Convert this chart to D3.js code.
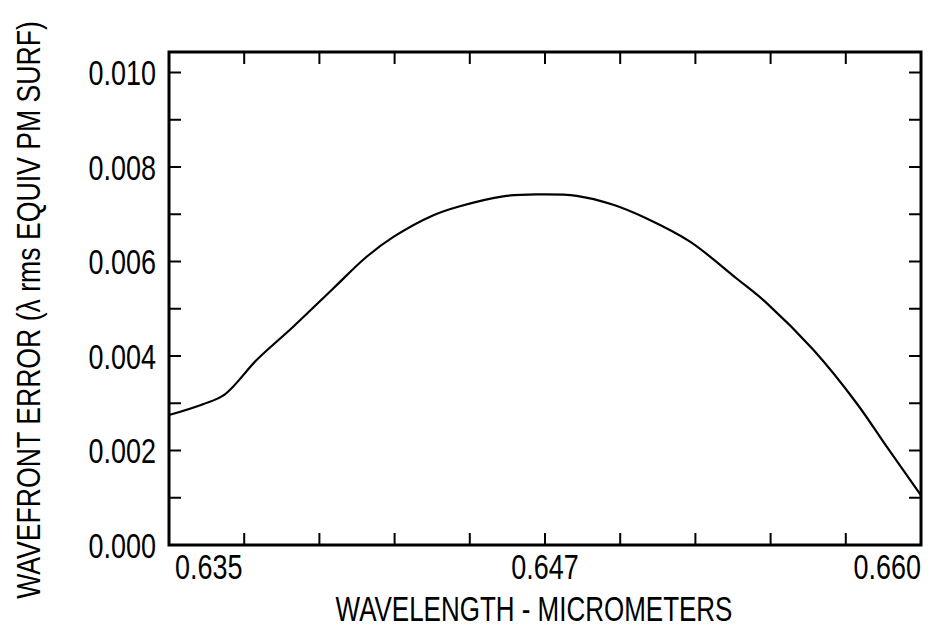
<!DOCTYPE html>
<html>
<head>
<meta charset="utf-8">
<script src="https://cdn.jsdelivr.net/npm/d3@7/dist/d3.min.js"></script>
<style>
  html, body { margin: 0; padding: 0; background: #fff; }
  svg { display: block; }
  text { font-family: "Liberation Sans", Arial, sans-serif; fill: #000; }
</style>
</head>
<body>
<svg id="chart" width="930" height="633"></svg>
<script>
// Wavefront error across the band, in waves rms
const wavelength = [
  0.6350, 0.63613, 0.63686, 0.63792, 0.63913, 0.64046, 0.64157, 0.64246,
  0.64379, 0.64467, 0.64611, 0.64722, 0.64855, 0.64977, 0.65088,
  0.65232, 0.65387, 0.65487, 0.65642, 0.65786, 0.65886, 0.6600
];
const wavefrontError = [
  0.00275, 0.00298, 0.00319, 0.00392, 0.00462, 0.00543, 0.00610, 0.00652,
  0.00698, 0.00717, 0.00738, 0.00742, 0.00739, 0.00720, 0.00691,
  0.00642, 0.00564, 0.00512, 0.00413, 0.00300, 0.00208, 0.00105
];

// Axis ticks and labels
const xTickValues = [0.635, 0.6375, 0.640, 0.6425, 0.645, 0.6475, 0.650, 0.6525, 0.655, 0.6575, 0.660];
const xLabelValues = [0.635, 0.6475, 0.660];
const xLabels = ["0.635", "0.647", "0.660"];
const yTickValues = [0, 0.001, 0.002, 0.003, 0.004, 0.005, 0.006, 0.007, 0.008, 0.009, 0.010];
const yLabelValues = [0, 0.002, 0.004, 0.006, 0.008, 0.010];
const yLabels = ["0.000", "0.002", "0.004", "0.006", "0.008", "0.010"];

const xTitle = "WAVELENGTH - MICROMETERS";
const yTitle = "WAVEFRONT ERROR (\u03BB rms EQUIV PM SURF)";

const margin = { top: 52, right: 9, bottom: 88, left: 169 };
const W = 930, H = 633;
const innerW = W - margin.left - margin.right;
const innerH = H - margin.top - margin.bottom;
const yTop = 0.010434;

const x = d3.scaleLinear().domain([0.635, 0.660]).range([0, innerW]);
const y = d3.scaleLinear().domain([0, yTop]).range([innerH, 0]);

const svg = d3.select("#chart");
const g = svg.append("g").attr("transform", `translate(${margin.left},${margin.top})`);

const tickLen = 12;
const tickW = 2;

// Inward ticks on all four sides
const inner = xTickValues.slice(1, -1);
g.selectAll("line.xb").data(inner).join("line")
  .attr("x1", d => x(d)).attr("x2", d => x(d))
  .attr("y1", innerH).attr("y2", innerH - tickLen)
  .attr("stroke", "#000").attr("stroke-width", tickW);
g.selectAll("line.xt").data(inner).join("line")
  .attr("x1", d => x(d)).attr("x2", d => x(d))
  .attr("y1", 0).attr("y2", tickLen)
  .attr("stroke", "#000").attr("stroke-width", tickW);
g.selectAll("line.yl").data(yTickValues.slice(1)).join("line")
  .attr("x1", 0).attr("x2", tickLen)
  .attr("y1", d => y(d)).attr("y2", d => y(d))
  .attr("stroke", "#000").attr("stroke-width", tickW);
g.selectAll("line.yr").data(yTickValues.slice(1)).join("line")
  .attr("x1", innerW).attr("x2", innerW - tickLen)
  .attr("y1", d => y(d)).attr("y2", d => y(d))
  .attr("stroke", "#000").attr("stroke-width", tickW);

// Plot frame
g.append("rect")
  .attr("x", 0).attr("y", 0).attr("width", innerW).attr("height", innerH)
  .attr("fill", "none").attr("stroke", "#000").attr("stroke-width", 3);

// Error curve
const line = d3.line()
  .x((d, i) => x(wavelength[i]))
  .y(d => y(d))
  .curve(d3.curveCatmullRom.alpha(0.5));
g.append("path")
  .datum(wavefrontError)
  .attr("d", line)
  .attr("fill", "none")
  .attr("stroke", "#000")
  .attr("stroke-width", 2.2)
  .attr("stroke-linejoin", "round");

// Tick labels, set in a condensed face by squeezing horizontally
const fs = 35;
const squeeze = 0.77;
g.selectAll("text.yl").data(yLabelValues).join("text")
  .attr("transform", d => `translate(-13,${y(d)}) scale(${squeeze},1)`)
  .attr("dy", "0.36em")
  .attr("text-anchor", "end").attr("font-size", fs)
  .text((d, i) => yLabels[i]);

const anchors = ["start", "middle", "end"];
const offs = [6, 0, 0];
g.selectAll("text.xl").data(xLabelValues).join("text")
  .attr("transform", (d, i) => `translate(${x(d) + offs[i]},${innerH + 34}) scale(${squeeze},1)`)
  .attr("text-anchor", (d, i) => anchors[i]).attr("font-size", fs)
  .text((d, i) => xLabels[i]);

// Axis titles, squeezed to a fixed run length
function fitTitle(sel, base, len) {
  const natural = sel.node().getComputedTextLength();
  sel.attr("transform", `${base} scale(${len / natural},1)`);
}

const xt = svg.append("text")
  .attr("text-anchor", "middle").attr("font-size", fs)
  .text(xTitle);
fitTitle(xt, `translate(${margin.left + innerW / 2 - 11},621)`, 397);

const yt = svg.append("text")
  .attr("text-anchor", "middle").attr("font-size", 33)
  .text(yTitle);
fitTitle(yt, "translate(40,310) rotate(-90)", 578);
</script>
</body>
</html>
